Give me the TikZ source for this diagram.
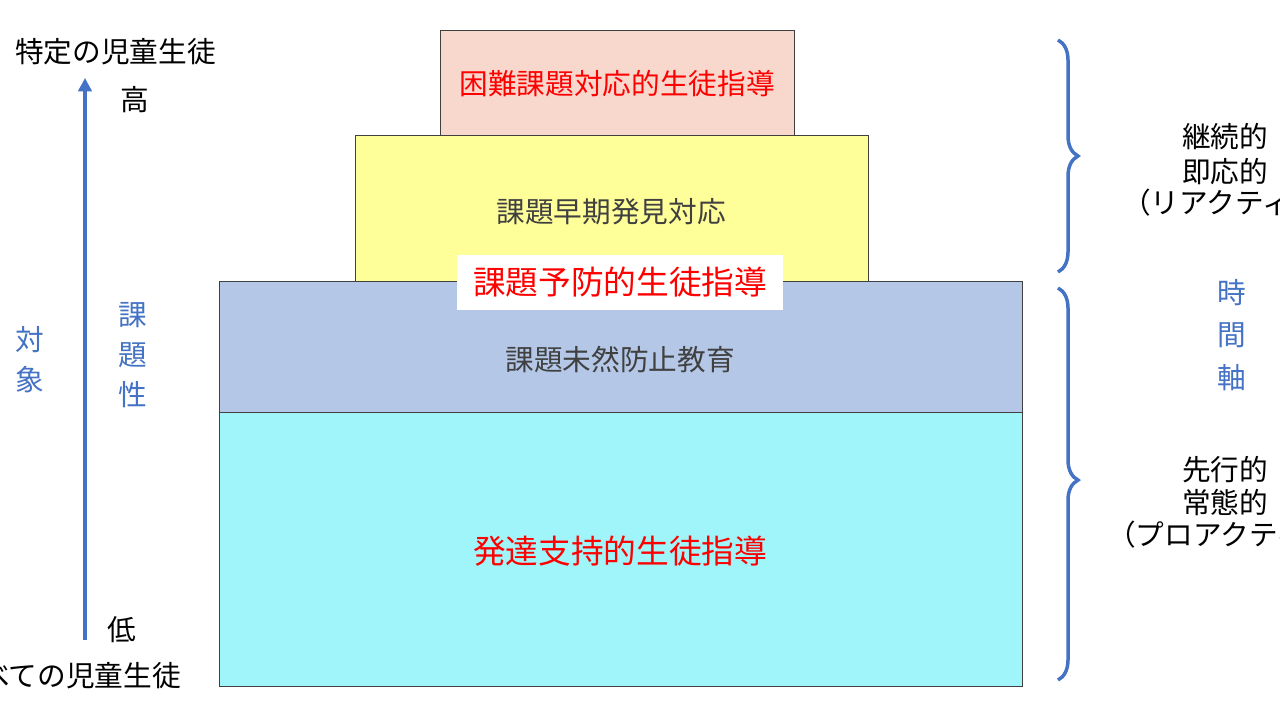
\documentclass[tikz,border=0pt]{standalone}
\usepackage{fontspec}
\setmainfont{Noto Sans CJK JP}
\usetikzlibrary{decorations.pathreplacing,arrows.meta}
\definecolor{bluec}{HTML}{4472C4}
\definecolor{txtc}{HTML}{404040}
\definecolor{redc}{HTML}{FF0000}
\tikzset{
  lvl/.style={draw=black!75,line width=0.9pt,anchor=north west,inner sep=0},
  lab/.style={font=\fontsize{21.5}{24}\selectfont,text=txtc,inner sep=0},
  bl/.style={font=\fontsize{21.5}{24}\selectfont,text=bluec,inner sep=0},
  br/.style={decorate,decoration={brace,amplitude=15pt,aspect=#1},draw=bluec,line width=2.6pt}
}
\begin{document}
\begin{tikzpicture}[x=0.75pt,y=-0.75pt]
\useasboundingbox (0,0) rectangle (1280,720);
\clip (0,0) rectangle (1280,720);
\fill[white] (0,0) rectangle (1280,720);
\node[lvl,fill={rgb,255:red,248;green,215;blue,204},minimum width=354*0.75pt,minimum height=105*0.75pt] (b1) at (440,30) {};
\node[lvl,fill={rgb,255:red,255;green,255;blue,153},minimum width=513*0.75pt,minimum height=146*0.75pt] (b2) at (355,135) {};
\node[lvl,fill={rgb,255:red,180;green,199;blue,231},minimum width=803*0.75pt,minimum height=131*0.75pt] (b3) at (219,281) {};
\node[lvl,fill={rgb,255:red,159;green,245;blue,249},minimum width=803*0.75pt,minimum height=274*0.75pt] (b4) at (219,412) {};
\node[fill=white,minimum width=326*0.75pt,minimum height=55*0.75pt,inner sep=0,text=redc,font=\fontsize{24.5}{28}\selectfont] (pl) at (620,282) {課題予防的生徒指導};
\node[lab,text=redc] (t1) at (617,84) {困難課題対応的生徒指導};
\node[lab] (t2) at (611,212) {課題早期発見対応};
\node[lab] (t3) at (620,360) {課題未然防止教育};
\node[lab,text=redc,font=\fontsize{24.5}{28}\selectfont] (t4) at (620,551) {発達支持的生徒指導};
% left axis
\coordinate (a0) at (85,640);
\coordinate (a1) at (85,78);
\draw[bluec,line width=2.4pt,-{Triangle[length=10pt,width=10pt]}] (a0) -- (a1);
\node[lab,text=black,anchor=east] (sp) at (216,52) {特定の児童生徒};
\node[lab,text=black] (hi) at (135,100) {高};
\node[lab,text=black] (lo) at (122,630) {低};
\node[lab,text=black,anchor=east] (al) at (181,676) {すべての児童生徒};
\node[bl,align=center,font=\fontsize{21.5}{30}\selectfont] (tai) at (30,360) {対\\象};
\node[bl,align=center,font=\fontsize{21.5}{30}\selectfont] (kad) at (133,355) {課\\題\\性};
% braces
\coordinate (u0) at (1058,40); \coordinate (u1) at (1058,272);
\coordinate (l0) at (1058,288); \coordinate (l1) at (1058,680);
\draw[br=0.5] (u0) -- (u1);
\draw[br=0.49] (l0) -- (l1);
\node[lab,text=black] (k1) at (1225,137) {継続的};
\node[lab,text=black] (k2) at (1225,172) {即応的};
\node[lab,text=black,anchor=west] (k3) at (1122,203) {（リアクティブ）};
\node[bl,align=center,font=\fontsize{21.5}{32}\selectfont] (jk) at (1232,335) {時\\間\\軸};
\node[lab,text=black] (s1) at (1225,470) {先行的};
\node[lab,text=black] (s2) at (1225,503) {常態的};
\node[lab,text=black,anchor=west] (s3) at (1107,535) {（プロアクティブ）};
\end{tikzpicture}
\end{document}
